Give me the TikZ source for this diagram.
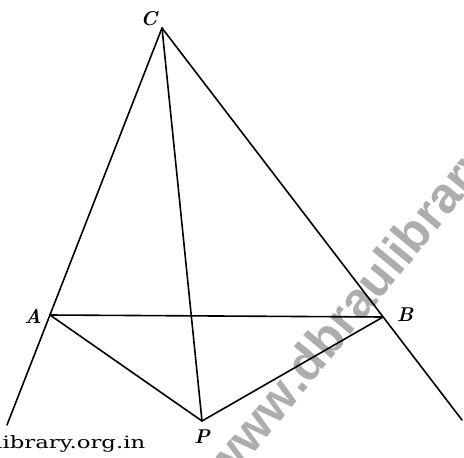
\documentclass[tikz,border=0pt]{standalone}
\usepackage{fontspec}
\newfontfamily\wmfont{Liberation Sans}
\newfontfamily\sitefont{DejaVu Serif}
\begin{document}
\begin{tikzpicture}[x=1pt,y=-1pt,
  seg/.style={line width=1.6pt, line cap=round},
  wmark/.style={rotate=50.5, inner sep=0pt, text=black!32,
    font=\wmfont\bfseries\fontsize{50}{50}\selectfont},
  lbl/.style={font=\fontsize{20}{20}\selectfont\bfseries\itshape, inner sep=0pt}]
\useasboundingbox (0,0) rectangle (464,458);
\begin{scope}
\clip (0,0) rectangle (464,458);
\coordinate (dot) at (301,396);
\node[wmark, anchor=base east] (wm1) at (dot) {www};
\node[wmark, anchor=base west] (wm2) at (dot) {.dbraulibrary.org.in};
\end{scope}
\coordinate (C) at (162,28);
\coordinate (A) at (50,315);
\coordinate (B) at (383,317);
\coordinate (P) at (202,421);
\coordinate (L) at (7,425);
\coordinate (R) at (462,420);
\draw[seg] (C) -- (L);
\draw[seg] (C) -- (R);
\draw[seg] (C) -- (P);
\draw[seg] (A) -- (B);
\draw[seg] (A) -- (P) -- (B);
\node[lbl] (lC) at (149,19) {C};
\node[lbl] (lA) at (33,316) {A};
\node[lbl] (lB) at (405,315) {B};
\node[lbl] (lP) at (202,437) {P};
\node[anchor=base west, inner sep=0pt, xscale=1.34,
  font=\sitefont\fontsize{17}{17}\selectfont] (site) at (-5,448) {library.org.in};
\end{tikzpicture}
\end{document}
